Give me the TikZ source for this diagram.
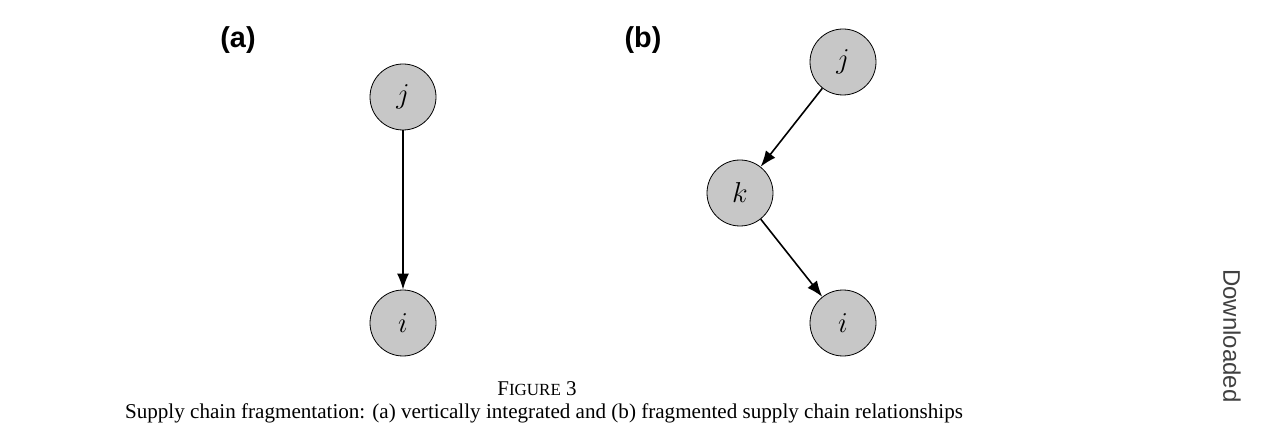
\documentclass[tikz,border=0pt]{standalone}
\usepackage{fontspec}
\setmainfont{Liberation Serif}
\newfontfamily\sansf{Liberation Sans}
\usetikzlibrary{arrows.meta}
\tikzset{
	firm/.style={circle, draw, fill=black!22, minimum size=33pt, inner sep=0pt, font=\Large},
	link/.style={-{Latex[length=8pt,width=6pt]}, thick},
	panel/.style={font=\sansf\bfseries\Large}
}
\begin{document}
\begin{tikzpicture}[x=0.5pt,y=-0.5pt]
	\useasboundingbox (0,0) rectangle (1263,427);
	
	% panel (a)
	\node[panel] (la) at (238,40) {(a)};
	\node[firm] (ja) at (403,97) {$j$};
	\node[firm] (ia) at (403,323) {$i$};
	\draw[link] (ja) -- (ia);
	
	% panel (b)
	\node[panel] (lb) at (643,40) {(b)};
	\node[firm] (jb) at (843,62) {$j$};
	\node[firm] (kb) at (740,193) {$k$};
	\node[firm] (ib) at (843,323) {$i$};
	\draw[link] (jb) -- (kb);
	\draw[link] (kb) -- (ib);
	
	% caption
	\node[font=\fontsize{10.5}{12}\selectfont] (fig) at (537,389) {F{\fontsize{8.5}{10}\selectfont IGURE} 3};
	\node[font=\fontsize{10.55}{12}\selectfont] (cap) at (544,413) {Supply chain fragmentation: (a) vertically integrated and (b) fragmented supply chain relationships};
	\node[font=\sansf\large, rotate=-90, text=black!75] (dl) at (1232,336) {Downloaded};
\end{tikzpicture}
\end{document}
